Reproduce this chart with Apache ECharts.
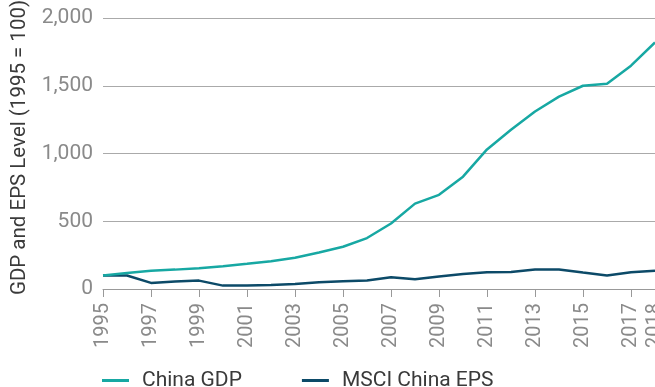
<!DOCTYPE html>
<html><head><meta charset="utf-8">
<script src="https://cdn.jsdelivr.net/npm/echarts@6/dist/echarts.min.js"></script>
<style>html,body{margin:0;padding:0;background:#fff;overflow:hidden}#c{width:655px;height:387px}</style>
</head><body><div id="c"></div>
<script>
const years = ['1995','1996','1997','1998','1999','2000','2001','2002','2003','2004','2005','2006','2007','2008','2009','2010','2011','2012','2013','2014','2015','2016','2017','2018'];
const chinaGDP = [100,118,135,143,153,168,186,205,230,270,312,376,483,630,695,829,1030,1175,1310,1420,1500,1515,1648,1820];
const msciEPS = [100,100,45,55,62,25,25,30,37,50,57,62,87,72,92,111,124,126,144,144,121,99,124,134];
const yTicks = [0,500,1000,1500,2000];
const seriesNames = ['China GDP','MSCI China EPS'];
const colors = ['#17a8a3','#0c4a68'];

const shownLabel = (i) => i % 2 === 0 || i === years.length - 1;
const chart = echarts.init(document.getElementById('c'));
chart.setOption({
  animation:false,
  textStyle:{fontFamily:'Roboto'},
  grid:{left:103,right:0,top:18,bottom:98,containLabel:false,outerBoundsMode:'none'},
  legend:{
    left:102, top:370, padding:0, itemGap:60, itemWidth:27, itemHeight:3, icon:'rect',
    textStyle:{fontSize:21,color:'#3a3a3a',fontFamily:'Roboto',padding:[0,0,0,8]},
    data:seriesNames
  },
  xAxis:{
    type:'category', data:years, boundaryGap:false,
    axisLine:{lineStyle:{color:'#999',width:1}},
    axisTick:{show:true,length:8,lineStyle:{color:'#999'},interval:(i)=>shownLabel(i)},
    axisLabel:{rotate:90,color:'#8a8a8a',fontSize:20,margin:14,hideOverlap:false,interval:(i)=>shownLabel(i)},
    splitLine:{show:false}
  },
  yAxis:{
    type:'value', min:yTicks[0], max:yTicks[yTicks.length-1], interval:500,
    name:'GDP and EPS Level (1995 = 100)', nameLocation:'middle', nameGap:73,
    nameTextStyle:{fontSize:20.5,color:'#3a3a3a',fontFamily:'Roboto',padding:[0,0,0,12]},
    axisLine:{show:false}, axisTick:{show:false},
    axisLabel:{color:'#8a8a8a',fontSize:21,margin:10,formatter:(v)=>v.toLocaleString('en-US')},
    splitLine:{lineStyle:{color:'#aaa',width:1}}
  },
  series:[
    {name:seriesNames[0],type:'line',data:chinaGDP,symbol:'none',lineStyle:{color:colors[0],width:2.5},itemStyle:{color:colors[0]},z:3},
    {name:seriesNames[1],type:'line',data:msciEPS,symbol:'none',lineStyle:{color:colors[1],width:2.5},itemStyle:{color:colors[1]},z:2}
  ]
});
</script></body></html>
